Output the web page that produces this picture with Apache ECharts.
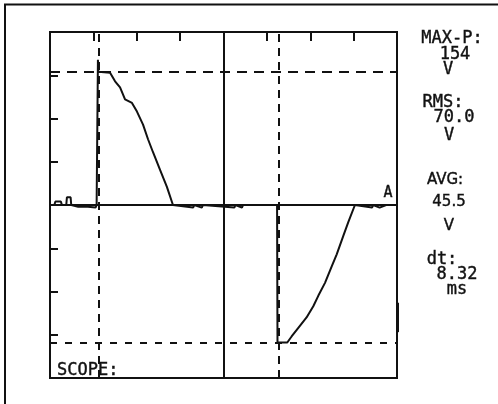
<!DOCTYPE html>
<html>
<head>
<meta charset="utf-8">
<script src="https://cdn.jsdelivr.net/npm/echarts@6/dist/echarts.min.js"></script>
<style>
  html, body { margin: 0; padding: 0; background: #fff; }
  #main { width: 498px; height: 404px; }
</style>
</head>
<body>
<div id="main"></div>
<script>
// scope trace: time in ms (2 ms/div), voltage in V (50 V/div)
const timeMs = [0, 0.2, 0.25, 0.5, 0.55, 0.75, 0.78, 0.95, 0.98, 1.3, 1.35, 1.75, 1.8, 2.1, 2.15, 2.19,
  2.21, 2.23, 2.31, 2.77, 3.00, 3.23, 3.46, 3.78, 4.01, 4.29, 4.52, 4.75, 5.07, 5.39, 5.67,
  6.6, 6.65, 7.0, 7.05, 8.5, 8.55, 8.85, 8.9, 10.47,
  10.49, 10.94, 11.14, 11.45, 11.83, 12.14, 12.37, 12.68, 12.99, 13.22, 13.52, 13.75, 14.06,
  14.85, 14.9, 15.2, 15.5, 16];
const volts = [0, 0, 4, 4, 0, 0, 9, 9, 0, -2, 0, -2, 0, -3, 0, 0,
  168, 154, 154, 153, 143, 136, 122, 118, 108, 93, 76, 61, 41, 21, 0,
  -3, 0, -3, 0, -3, 0, -3, 0, 0,
  -159, -159, -152, -142, -130, -117, -105, -90, -71, -57, -36, -20, 0,
  -3, 0, -3, 0, 0];

// cursors and levels
const cursorTimes = [2.24, 10.56];
const levelVolts = [154, -159];
const centerTime = 8;
const zeroVolt = 0;
const triggerBar = [-113, -147];

// axis ranges (no tick labels shown on the scope)
const xRange = [0, 16], xStep = 2;
const yRange = [-200, 200], yStep = 50;

// readouts on the right
const readouts = [
  { text: 'MAX-P:', x: 452, y: 39, mono: true },
  { text: '154', x: 455, y: 55, mono: true },
  { text: 'V', x: 448, y: 70, mono: true },
  { text: 'RMS:', x: 443, y: 103, mono: true },
  { text: '70.0', x: 454, y: 118, mono: true },
  { text: 'V', x: 449, y: 136, mono: true },
  { text: 'AVG:', x: 445, y: 180, mono: false },
  { text: '45.5', x: 449, y: 202, mono: false },
  { text: 'V', x: 449, y: 226, mono: false },
  { text: 'dt:', x: 442, y: 260, mono: true },
  { text: '8.32', x: 457, y: 275, mono: true },
  { text: 'ms', x: 457, y: 290, mono: true }
];

const ink = '#111';
const chart = echarts.init(document.getElementById('main'));

const graphics = readouts.map(r => ({
  type: 'text',
  style: {
    text: r.text, x: r.x, y: r.y,
    font: r.mono ? '17px "DejaVu Sans Mono"' : '15px "DejaVu Sans"',
    fill: '#111', stroke: '#111', lineWidth: 0.4,
    textAlign: 'center', textVerticalAlign: 'middle'
  }
}));
graphics.push(
  { type: 'text', style: { text: 'SCOPE:', x: 57, y: 371, font: '17px "DejaVu Sans Mono"', fill: '#111', stroke: '#111', lineWidth: 0.4, textVerticalAlign: 'middle' } },
  { type: 'text', style: { text: 'A', x: 388, y: 193, font: '15px "DejaVu Sans Mono"', fill: '#111', stroke: '#111', lineWidth: 0.4, textAlign: 'center', textVerticalAlign: 'middle' } },
  { type: 'line', shape: { x1: 5, y1: 4, x2: 5, y2: 404 }, style: { stroke: ink, lineWidth: 2 } },
  { type: 'line', shape: { x1: 4, y1: 4.5, x2: 498, y2: 4.5 }, style: { stroke: ink, lineWidth: 2 } }
);

const option = {
  animation: false,
  backgroundColor: '#fff',
  grid: { left: 50, top: 32, width: 347, height: 346, show: true, borderColor: ink, borderWidth: 2, backgroundColor: 'transparent' },
  xAxis: {
    type: 'value', min: xRange[0], max: xRange[1], interval: xStep, position: 'top',
    axisLine: { show: false, onZero: false },
    axisTick: { show: true, inside: true, length: 9, lineStyle: { color: ink, width: 2 } },
    axisLabel: { show: false }, splitLine: { show: false }
  },
  yAxis: {
    type: 'value', min: yRange[0], max: yRange[1], interval: yStep, position: 'left',
    axisLine: { show: false, onZero: false },
    axisTick: { show: true, inside: true, length: 8, lineStyle: { color: ink, width: 2 } },
    axisLabel: { show: false }, splitLine: { show: false }
  },
  graphic: graphics,
  series: [{
    type: 'line',
    data: timeMs.map((t, i) => [t, volts[i]]),
    showSymbol: false,
    lineStyle: { color: ink, width: 2 },
    z: 3,
    markLine: {
      silent: true, symbol: 'none', animation: false,
      label: { show: false },
      lineStyle: { color: ink, width: 2, type: 'solid' },
      data: [
        { xAxis: centerTime },
        { yAxis: zeroVolt },
        { xAxis: cursorTimes[0], lineStyle: { type: [8, 6], color: ink, width: 2 } },
        { xAxis: cursorTimes[1], lineStyle: { type: [8, 6], color: ink, width: 2 } },
        { yAxis: levelVolts[0], lineStyle: { type: [10, 7], color: ink, width: 2 } },
        { yAxis: levelVolts[1], lineStyle: { type: [7, 8], color: ink, width: 2 } },
        [{ coord: [xRange[1], triggerBar[0]] }, { coord: [xRange[1], triggerBar[1]], lineStyle: { width: 3, color: ink, type: 'solid' } }]
      ]
    }
  }]
};

chart.setOption(option);
</script>
</body>
</html>
